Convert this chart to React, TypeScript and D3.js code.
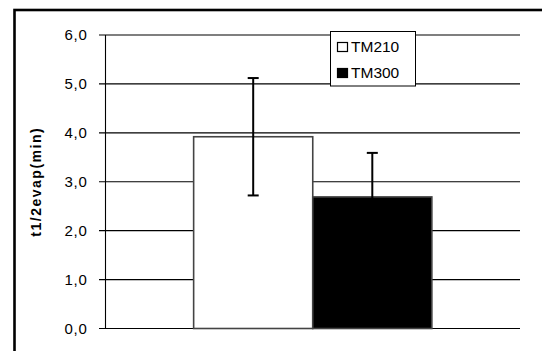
import React from 'react';
import * as d3 from 'd3';

// data
const categories = [''];
const seriesNames = ['TM210', 'TM300'];
const seriesValues = [[3.92], [2.69]];
const seriesErrors = [[1.2], [0.9]];
const seriesFills = ['#ffffff', '#000000'];
const yTicks = [0, 1, 2, 3, 4, 5, 6];
const yTitle = 't1/2evap(min)';

const W = 542;
const H = 351;
const plot = { left: 105.5, right: 520, top: 35, bottom: 328.5 };

const App = () => {
  const y = d3.scaleLinear().domain([0, 6]).range([plot.bottom, plot.top]);
  const x0 = d3
    .scaleBand<string>()
    .domain(categories)
    .range([plot.left, plot.right])
    .paddingInner(0)
    .paddingOuter(0.37);
  const x1 = d3
    .scaleBand<string>()
    .domain(seriesNames)
    .range([0, x0.bandwidth()])
    .padding(0);
  const fmt = (v: number) => d3.format('.1f')(v).replace('.', ',');

  return (
    <svg
      width={W}
      height={H}
      style={{ position: 'absolute', left: 0, top: 0, background: '#fff' }}
      fontFamily="Arial, 'Liberation Sans', sans-serif"
    >
      {/* outer frame, runs off the right and bottom */}
      <rect x={14.5} y={10} width={600} height={400} fill="none" stroke="#000" strokeWidth={2.6} />

      {/* gridlines + ticks */}
      {yTicks.map(t => (
        <g key={t}>
          <line x1={99} x2={plot.right} y1={y(t)} y2={y(t)} stroke="#000" strokeWidth={1.1} />
          <text
            x={87.5}
            y={y(t)}
            dy="0.35em"
            textAnchor="end"
            fontSize={15}
            letterSpacing={0.7}
            fill="#000"
          >
            {fmt(t)}
          </text>
        </g>
      ))}
      <line x1={plot.left} x2={plot.left} y1={plot.top} y2={plot.bottom} stroke="#000" strokeWidth={1.1} />

      {/* bars */}
      {categories.map((c, ci) => (
        <g key={ci} transform={`translate(${x0(c)},0)`}>
          {seriesNames.map((s, si) => {
            const v = seriesValues[si][ci];
            return (
              <rect
                key={s}
                x={x1(s)}
                y={y(v)}
                width={x1.bandwidth()}
                height={y(0) - y(v)}
                fill={seriesFills[si]}
                stroke="#444"
                strokeWidth={1.6}
              />
            );
          })}
          {seriesNames.map((s, si) => {
            const v = seriesValues[si][ci];
            const e = seriesErrors[si][ci];
            const cx = (x1(s) as number) + x1.bandwidth() / 2;
            return (
              <g key={s} stroke="#000" strokeWidth={2}>
                <line x1={cx} x2={cx} y1={y(v + e)} y2={y(v - e)} />
                <line x1={cx - 5.5} x2={cx + 5.5} y1={y(v + e)} y2={y(v + e)} />
                <line x1={cx - 5.5} x2={cx + 5.5} y1={y(v - e)} y2={y(v - e)} />
              </g>
            );
          })}
        </g>
      ))}

      {/* legend */}
      <g>
        <rect x={330.5} y={31.5} width={85} height={54.5} fill="#fff" stroke="#000" strokeWidth={1} />
        {seriesNames.map((s, i) => (
          <g key={s} transform={`translate(337,${42 + i * 26})`}>
            <rect x={0.5} y={0.5} width={10} height={9} fill={seriesFills[i]} stroke="#000" strokeWidth={1.2} />
            <text x={14} y={4.5} dy="0.35em" fontSize={15.5} fill="#000">
              {s}
            </text>
          </g>
        ))}
      </g>

      {/* y axis title */}
      <text
        transform={`translate(41,${(plot.top + plot.bottom) / 2}) rotate(-90)`}
        textAnchor="middle"
        fontSize={14}
        fontWeight="bold"
        letterSpacing={1.5}
        fill="#000"
      >
        {yTitle}
      </text>
    </svg>
  );
};

export default App;
